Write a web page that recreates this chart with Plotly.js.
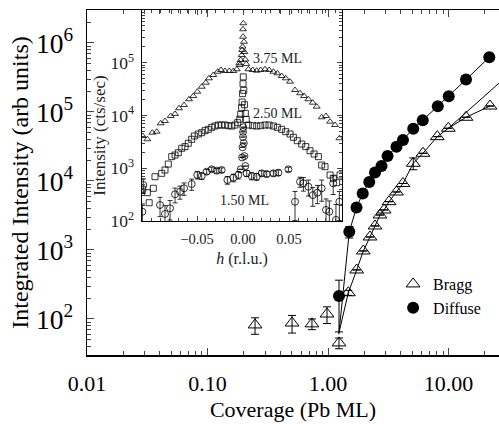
<!DOCTYPE html>
<html><head><meta charset="utf-8">
<script src="https://cdn.plot.ly/plotly-3.0.1.min.js"></script>
<style>html,body{margin:0;padding:0;background:#fff}#plot{width:499px;height:424px}</style>
</head><body><div id="plot"></div>
<script>
// ---- main panel: integrated intensity vs coverage ----
const braggX = [0.248, 0.503, 0.736, 0.981, 1.234, 1.474, 1.73, 1.963, 2.23, 2.455, 2.70, 2.92, 3.21, 3.70, 4.19, 5.10, 6.14, 8.07, 9.96, 13.97, 22.1];
const braggY = [82, 87.5, 85, 118, 45, 240, 513, 968, 1543, 2228, 3215, 3800, 5015, 6930, 9200, 18060, 25200, 43900, 58100, 83800, 122000];
const braggErr = [22, 25, 15, 32, 8, 20, 0, 0, 0, 0, 0, 0, 0, 0, 0, 3500, 0, 0, 0, 0, 0];
const diffX = [1.234, 1.502, 1.724, 1.941, 2.20, 2.455, 2.78, 3.12, 3.70, 4.19, 5.10, 6.11, 8.15, 10.04, 13.97, 21.8];
const diffY = [215, 1841, 4130, 6590, 9680, 13280, 16500, 23000, 31400, 39300, 57100, 75900, 121000, 169000, 295000, 621000];
const diffErr = [150, 350, 0, 0, 0, 0, 0, 0, 0, 0, 0, 0, 0, 0, 0, 0];
const lineStartX = 1.23, braggStartY = 62, diffStartY = 60;
const braggFitX = [9.96, 26.2];
const braggFitY = [58100, 261000];

// ---- inset: h scans ----
const h375 = [-0.109,-0.104,-0.0986,-0.0938,-0.0895,-0.0848,-0.0786,-0.0739,-0.0696,-0.0641,-0.0587,-0.054,-0.0497,-0.0449,-0.0405,-0.037,-0.0323,-0.0275,-0.0239,-0.0196,-0.0149,-0.0105,-0.0068,-0.004,-0.0035,-0.0025,-0.0015,-0.001,-0.0005,0,0,0.0003,0.001,0.0015,0.0025,0.0035,0.0058,0.0105,0.0149,0.0192,0.0239,0.0283,0.033,0.0373,0.042,0.0464,0.0511,0.0565,0.062,0.0663,0.071,0.0758,0.0801,0.0855,0.0902,0.0946,0.1,0.1047];
const i375 = [4090,3540,4720,4930,7110,7870,9790,10700,13700,15800,20300,23400,28300,35100,41900,50700,58600,67700,72900,69800,69800,69800,75200,97700,90600,113000,140000,175000,202000,312000,431000,560000,250000,160000,115000,95000,75200,72900,70800,72900,75200,72900,67600,63100,56100,50700,43800,30400,26400,23400,20300,17500,14700,9250,9790,7640,6610,3700];
const h250 = [-0.109,-0.104,-0.102,-0.0975,-0.0957,-0.0884,-0.0848,-0.0812,-0.0775,-0.0739,-0.0703,-0.0666,-0.063,-0.0595,-0.0558,-0.0529,-0.0486,-0.0449,-0.0413,-0.0377,-0.034,-0.0304,-0.0268,-0.0232,-0.0196,-0.016,-0.0123,-0.0087,-0.0058,-0.0035,-0.0025,-0.0015,-0.001,-0.0005,0,0.0003,0.0008,0.0015,0.0025,0.0035,0.0058,0.0105,0.0149,0.0192,0.0239,0.0283,0.033,0.0373,0.042,0.0464,0.0511,0.0547,0.059,0.0638,0.0682,0.0728,0.0772,0.0819,0.0855,0.0891,0.0946,0.0982,0.1018,0.1054];
const i250 = [400,344,222,417,692,801,926,1200,1660,1780,1970,2390,2570,2970,3540,4090,4460,4720,5150,5470,5970,6320,6600,6600,6600,6410,6320,6600,7310,8500,10500,14000,18000,26000,40000,54000,30000,16000,11000,8400,6600,6410,6320,6410,6600,6600,6320,5970,5470,4930,4460,3860,3330,2880,2570,2150,1860,1660,1150,1070,745,646,532,745];
const h150 = [-0.1094,-0.1084,-0.0902,-0.0848,-0.0793,-0.0739,-0.0685,-0.0641,-0.0558,-0.0497,-0.0449,-0.0395,-0.034,-0.0286,-0.0232,-0.017,-0.0105,-0.0051,-0.0025,-0.001,-0.0005,0,0,0.0003,0.0008,0.0015,0.0025,0.004,0.0094,0.0149,0.0203,0.0257,0.033,0.0384,0.0493,0.0565,0.062,0.0656,0.071,0.0758,0.0808,0.0855,0.0902,0.0938,0.098,0.101,0.1047];
const i150 = [150,482,201,136,174,321,359,417,502,745,713,861,955,899,926,598,662,745,955,1600,2500,3900,4900,6000,3000,1700,1100,801,713,692,801,778,801,824,955,232,556,518,447,310,343,417,162,150,518,105,232];
const e150 = [60,150,80,60,70,100,100,110,120,120,100,90,90,90,90,100,110,120,0,0,0,0,0,0,0,0,0,100,110,100,90,90,90,100,90,130,120,150,150,120,130,180,100,90,200,100,130];
const labels = ['3.75 ML', '2.50 ML', '1.50 ML'];
const labelH = [0.038, 0.038, 0.002];
const labelI = [1.2e5, 1.07e4, 250];
const insetTicks = [-0.05, 0, 0.05];
const insetYTitle = 'Intensity (cts/sec)';

const F = 'Liberation Serif, Times New Roman, serif';
const traces = [
  {x: [lineStartX].concat(braggX.slice(5)), y: [braggStartY].concat(braggY.slice(5)), mode: 'lines', line: {color: '#000', width: 1}, showlegend: false, hoverinfo: 'skip'},
  {x: braggFitX, y: braggFitY, mode: 'lines', line: {color: '#000', width: 1}, showlegend: false, hoverinfo: 'skip'},
  {x: [lineStartX].concat(diffX.slice(1)), y: [diffStartY].concat(diffY.slice(1)), mode: 'lines', line: {color: '#000', width: 1}, showlegend: false, hoverinfo: 'skip'},
  {x: braggX, y: braggY, name: 'Bragg', mode: 'markers', marker: {symbol: 'triangle-up-open', size: 12, color: '#000', line: {width: 1}},
   error_y: {type: 'data', array: braggErr, color: '#000', thickness: 1, width: 4}},
  {x: diffX, y: diffY, name: 'Diffuse', mode: 'markers', marker: {symbol: 'circle', size: 12, color: '#000'},
   error_y: {type: 'data', array: diffErr, color: '#000', thickness: 1, width: 4}},
  {x: h375, y: i375, xaxis: 'x2', yaxis: 'y2', mode: 'markers', showlegend: false, marker: {symbol: 'triangle-up-open', size: 6, color: '#000', line: {width: 0.8}}},
  {x: h250, y: i250, xaxis: 'x2', yaxis: 'y2', mode: 'markers', showlegend: false, marker: {symbol: 'square-open', size: 6, color: '#000', line: {width: 0.8}}},
  {x: h150, y: i150, xaxis: 'x2', yaxis: 'y2', mode: 'markers', showlegend: false, marker: {symbol: 'circle-open', size: 7, color: '#000', line: {width: 0.8}},
   error_y: {type: 'data', array: e150, color: '#000', thickness: 0.8, width: 2.5}}
];

const annos = labels.map((t, k) => ({xref: 'x2', yref: 'y2', x: labelH[k], y: Math.log10(labelI[k]), text: t,
    showarrow: false, font: {size: 14, family: F, color: '#222'}}));
annos.push({xref: 'paper', yref: 'paper', x: 0.031, y: 0.635, xanchor: 'center', yanchor: 'middle', text: insetYTitle, textangle: -90,
    showarrow: false, font: {size: 17, family: F, color: '#222'}});

const layout = {
  width: 499, height: 424,
  margin: {l: 87, r: 0, t: 10, b: 69},
  paper_bgcolor: '#fff', plot_bgcolor: 'rgba(0,0,0,0)',
  font: {family: F, color: '#000'},
  showlegend: true,
  legend: {x: 0.743, y: 0.255, xanchor: 'left', yanchor: 'top', font: {size: 16, family: F}, bgcolor: 'rgba(0,0,0,0)', tracegroupgap: 0},
  xaxis: {type: 'log', range: [-2, 1.419], domain: [0, 1], anchor: 'y', dtick: 1, tickformat: '.2f',
    ticks: 'inside', ticklen: 7, tickwidth: 1, showline: true, linewidth: 1.5, linecolor: '#000', mirror: 'ticks',
    showgrid: false, zeroline: false, tickfont: {size: 22}, ticklabelstandoff: 8,
    minor: {dtick: 'D1', ticks: 'inside', ticklen: 4, tickwidth: 1, showgrid: false},
    title: {text: 'Coverage (Pb ML)', font: {size: 22}, standoff: 6}},
  yaxis: {type: 'log', range: [1.478, 6.478], domain: [0, 1], anchor: 'x', dtick: 1, exponentformat: 'power',
    ticks: 'inside', ticklen: 7, tickwidth: 1, showline: true, linewidth: 1.5, linecolor: '#000', mirror: false,
    showgrid: false, zeroline: false, tickfont: {size: 22}, ticklabelstandoff: 8,
    minor: {dtick: 'D1', ticks: 'inside', ticklen: 4, tickwidth: 1, showgrid: false},
    title: {text: 'Integrated Intensity (arb units)', font: {size: 24}, standoff: 0}},
  xaxis2: {domain: [0.1335, 0.619], anchor: 'y2', range: [-0.1098, 0.1076], tickmode: 'array', tickvals: insetTicks, tickformat: '.2f',
    ticks: 'inside', ticklen: 5, tickwidth: 1, showline: true, linewidth: 1.2, linecolor: '#000', mirror: 'ticks',
    showgrid: false, zeroline: false, tickfont: {size: 14.5, color: '#222'}, ticklabelstandoff: 4,
    minor: {tickmode: 'linear', tick0: 0, dtick: 0.01, ticks: 'inside', ticklen: 3, tickwidth: 1, showgrid: false},
    title: {text: '<i>h</i> (r.l.u.)', font: {size: 16, color: '#222'}, standoff: 7}},
  yaxis2: {domain: [0.3884, 1], anchor: 'x2', type: 'log', range: [2, 6], dtick: 1, exponentformat: 'power',
    ticks: 'inside', ticklen: 5, tickwidth: 1, showline: true, linewidth: 1.2, linecolor: '#000', mirror: 'ticks',
    showgrid: false, zeroline: false, tickfont: {size: 14, color: '#222'}, ticklabelstandoff: 4,
    minor: {dtick: 'D1', ticks: 'inside', ticklen: 3, tickwidth: 1, showgrid: false}},
  annotations: annos
};
Plotly.newPlot('plot', traces, layout, {displayModeBar: false, staticPlot: true});
</script></body></html>
